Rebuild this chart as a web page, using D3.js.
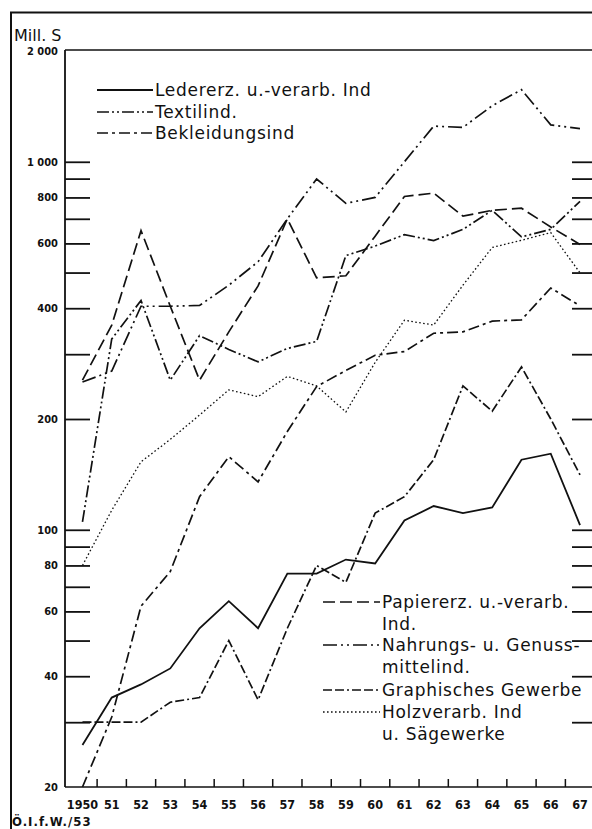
<!DOCTYPE html>
<html>
<head>
<meta charset="utf-8">
<script src="https://cdn.jsdelivr.net/npm/d3@7"></script>
<style>
  body { margin: 0; background: #fff; }
  svg { display: block; }
  .num { font-family: "DejaVu Sans Condensed", "DejaVu Sans", sans-serif; font-weight: bold; fill: #111; }
  .leg { font-family: "DejaVu Sans", sans-serif; font-size: 17px; letter-spacing: 0.7px; fill: #111; }
</style>
</head>
<body>
<svg id="chart"></svg>
<script>
// Investitionen nach Industriezweigen, Mill. S (log scale)
const years = d3.range(1950, 1968);
const yearLabels = ["1950", "51", "52", "53", "54", "55", "56", "57", "58", "59",
                    "60", "61", "62", "63", "64", "65", "66", "67"];

const leder     = [26, 35, 38, 42, 54, 64, 54, 76, 76, 83, 81, 106, 116, 111, 115, 155, 161, 103];
const textil    = [105, 330, 420, 255, 337, 309, 286, 311, 325, 556, 590, 634, 611, 655, 738, 625, 655, 781];
const bekleid   = [20, 31, 62, 77, 123, 158, 135, 185, 245, 271, 298, 305, 342, 345, 369, 372, 454, 406];
const papier    = [255, 360, 650, 405, 255, 345, 460, 700, 484, 490, 628, 805, 822, 712, 738, 748, 665, 596];
const nahrung   = [252, 270, 405, 405, 407, 462, 535, 700, 898, 771, 800, 1000, 1250, 1240, 1420, 1570, 1260, 1230];
const graphisch = [30, 30, 30, 34, 35, 50, 34.5, 54, 80, 72, 111, 123, 155, 246, 210, 277, 200, 141];
const holz      = [80, 113, 153, 176, 205, 240, 230, 261, 246, 209, 285, 371, 360, 462, 585, 612, 642, 499];

const tickValues  = [30, 40, 50, 60, 70, 80, 90, 100, 200, 300, 400, 500, 600, 700, 800, 900, 1000];
const labelValues = [20, 40, 60, 80, 100, 200, 400, 600, 800, 1000, 2000];

const series = [
  {name: "leder", values: leder, dash: null, width: 1.8},
  {name: "textil", values: textil, dash: "12,3,2,3,2,3", width: 1.7},
  {name: "bekleid", values: bekleid, dash: "11,4,3,4", width: 1.7},
  {name: "papier", values: papier, dash: "12,5", width: 1.7},
  {name: "nahrung", values: nahrung, dash: "14,4,2,4,2,4", width: 1.7},
  {name: "graphisch", values: graphisch, dash: "9,3,9,3,2,3", width: 1.7},
  {name: "holz", values: holz, dash: "1.6,2.4", width: 1.3}
];

const W = 592, H = 829;
const svg = d3.select("#chart").attr("width", W).attr("height", H);

const x = d3.scaleBand().domain(years).range([67.85, 594.65]).padding(0);
const xc = d => x(d) + x.bandwidth() / 2;
const y = d3.scaleLog().domain([20, 2000]).range([787, 51]);

// outer frame
svg.append("line").attr("x1", 10).attr("x2", W).attr("y1", 12.5).attr("y2", 12.5)
  .attr("stroke", "#111").attr("stroke-width", 2.2);
svg.append("line").attr("x1", 11).attr("x2", 11).attr("y1", 12).attr("y2", H)
  .attr("stroke", "#111").attr("stroke-width", 2);

// plot frame
svg.append("line").attr("x1", 65).attr("x2", W).attr("y1", 50).attr("y2", 50)
  .attr("stroke", "#111").attr("stroke-width", 1.6);
svg.append("line").attr("x1", 65).attr("x2", 65).attr("y1", 50).attr("y2", 787)
  .attr("stroke", "#111").attr("stroke-width", 1.8);
svg.append("line").attr("x1", 65).attr("x2", W).attr("y1", 787).attr("y2", 787)
  .attr("stroke", "#111").attr("stroke-width", 1.4);

svg.append("text").attr("class", "leg").attr("x", 14).attr("y", 41)
  .style("font-size", "16px").style("letter-spacing", "0px").text("Mill. S");

// left ticks (pointing inward)
const leftTicks = svg.append("g").attr("transform", "translate(65,0)")
  .call(d3.axisRight(y).tickValues(tickValues).tickSize(25).tickFormat(""));
leftTicks.select(".domain").remove();
leftTicks.selectAll("line").attr("stroke", "#111").attr("stroke-width", 1.8);

// right ticks
const rightTicks = svg.append("g").attr("transform", "translate(" + W + ",0)")
  .call(d3.axisLeft(y).tickValues(tickValues).tickSize(20).tickFormat(""));
rightTicks.select(".domain").remove();
rightTicks.selectAll("line").attr("stroke", "#111").attr("stroke-width", 1.8);

// y labels
const fmt = d => d >= 1000 ? d3.format(",")(d).replace(",", " ") : d;
const yLab = svg.append("g").attr("transform", "translate(65,0)")
  .call(d3.axisLeft(y).tickValues(labelValues).tickSize(0).tickPadding(7).tickFormat(fmt));
yLab.select(".domain").remove();
yLab.selectAll("text").attr("class", "num").style("font-size", "11px").attr("fill", "#111");

// bottom ticks at year boundaries
svg.append("g").selectAll("line")
  .data(years.slice(1))
  .enter().append("line")
  .attr("x1", d => x(d)).attr("x2", d => x(d))
  .attr("y1", 787).attr("y2", 779)
  .attr("stroke", "#111").attr("stroke-width", 1.5);

// year labels
const xLab = svg.append("g").attr("transform", "translate(0,800)")
  .call(d3.axisBottom(x).tickSize(0).tickPadding(0).tickFormat((d, i) => yearLabels[i]));
xLab.select(".domain").remove();
xLab.selectAll("text").attr("class", "num").style("font-size", "12.5px").attr("fill", "#111");

svg.append("text").attr("class", "num").attr("x", 12).attr("y", 826)
  .style("font-size", "13px").style("letter-spacing", "1px").text("Ö.I.f.W./53");

// series lines
const line = d3.line()
  .x((d, i) => xc(years[i]))
  .y(d => y(d));

svg.append("g").selectAll("path")
  .data(series)
  .enter().append("path")
  .attr("d", d => line(d.values))
  .attr("fill", "none")
  .attr("stroke", "#111")
  .attr("stroke-width", d => d.width)
  .attr("stroke-dasharray", d => d.dash)
  .attr("stroke-linejoin", "miter");

// legends
const legTop = [
  {key: "leder", text: ["Ledererz. u.-verarb. Ind"], ly: 90},
  {key: "textil", text: ["Textilind."], ly: 112},
  {key: "bekleid", text: ["Bekleidungsind"], ly: 133}
];
const legBottom = [
  {key: "papier", text: ["Papiererz. u.-verarb.", "Ind."], ly: 602},
  {key: "nahrung", text: ["Nahrungs- u. Genuss-", "mittelind."], ly: 645},
  {key: "graphisch", text: ["Graphisches Gewerbe"], ly: 690},
  {key: "holz", text: ["Holzverarb. Ind", "u. Sägewerke"], ly: 712}
];

function drawLegend(items, x0, x1) {
  items.forEach(it => {
    const s = series.find(d => d.name === it.key);
    svg.append("line").attr("x1", x0).attr("x2", x1)
      .attr("y1", it.ly).attr("y2", it.ly)
      .attr("stroke", "#111").attr("stroke-width", s.width)
      .attr("stroke-dasharray", s.dash);
    it.text.forEach((t, j) => {
      svg.append("text").attr("class", "leg")
        .attr("x", x1 + 2).attr("y", it.ly + 6 + j * 22)
        .text(t);
    });
  });
}
drawLegend(legTop, 97, 153);
drawLegend(legBottom, 323, 380);
</script>
</body>
</html>
